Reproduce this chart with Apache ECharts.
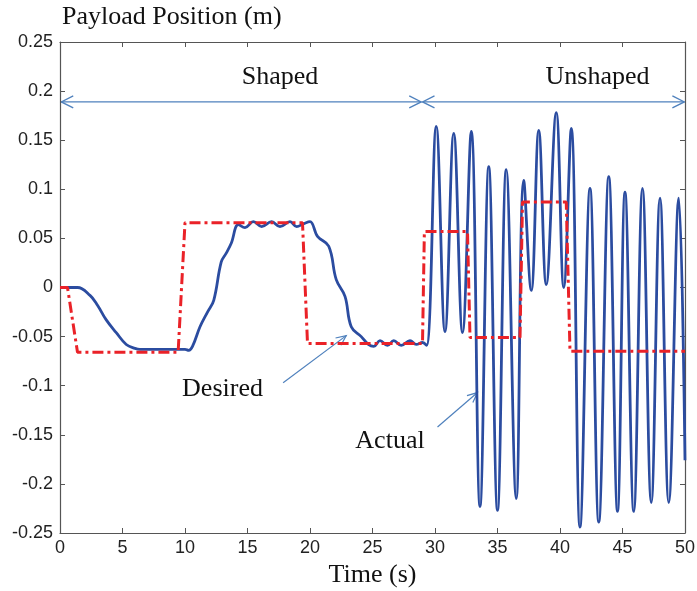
<!DOCTYPE html>
<html><head><meta charset="utf-8">
<script src="https://cdn.jsdelivr.net/npm/echarts@6/dist/echarts.min.js"></script>
<style>html,body{margin:0;padding:0;background:#fff}#c{width:697px;height:591px}</style>
</head><body><div id="c"></div>
<script>
// ---- data ----
const xTicks = [0,5,10,15,20,25,30,35,40,45,50];
const yTicks = [-0.25,-0.2,-0.15,-0.1,-0.05,0,0.05,0.1,0.15,0.2,0.25];

const desiredTime = [0,0.6,1.4,9.45,10.0,19.4,19.8,29.0,29.15,32.6,32.8,36.8,37.0,40.5,40.8,50];
const desiredPos  = [0,0,-0.066,-0.066,0.066,0.066,-0.057,-0.057,0.057,0.057,-0.051,-0.051,0.087,0.087,-0.065,-0.065];

const actualTime = [0,1.4,2.4,3.0,3.7,4.5,5.3,6.0,6.4,10.0,10.3,10.6,11.2,11.8,12.3,12.9,13.3,13.7,14.27,14.8,15.47,16.13,16.93,17.6,18.4,18.93,19.5,20.0,20.6,21.5,22.1,22.8,23.3,24.1,24.67,25.1,25.6,26.2,26.7,27.3,28.0,28.5,29.0,29.33,
  30.1,30.8,31.5,32.2,32.9,33.6,34.3,35.0,35.7,36.5,37.1,37.7,38.3,38.9,39.7,40.3,40.9,41.6,42.4,43.1,43.9,44.6,45.2,45.9,46.6,47.3,48.0,48.7,49.5,50.0];
const actualPos  = [0,0,-0.008,-0.018,-0.033,-0.046,-0.058,-0.062,-0.063,-0.063,-0.064,-0.060,-0.040,-0.025,-0.013,0.026,0.035,0.045,0.064,0.061,0.067,0.062,0.067,0.062,0.067,0.062,0.065,0.067,0.052,0.042,0.008,-0.009,-0.040,-0.050,-0.058,-0.060,-0.054,-0.059,-0.054,-0.059,-0.054,-0.058,-0.056,-0.059,
  0.164,-0.045,0.157,-0.046,0.159,-0.223,0.123,-0.227,0.120,-0.215,0.109,-0.003,0.160,0.003,0.178,0.0,0.162,-0.244,0.101,-0.239,0.113,-0.228,0.097,-0.228,0.101,-0.219,0.091,-0.219,0.091,-0.176];

// annotation anchors (data coordinates)
const shapedSpan = [0.1, 28.9, 0.189];
const unshapedSpan = [29.0, 49.95, 0.189];

const desired = desiredTime.map((t,i)=>[t,desiredPos[i]]);
const actual = actualTime.map((t,i)=>[t,actualPos[i]]);

const chart = echarts.init(document.getElementById('c'));
const axisColor = '#555';
const tickLab = {fontFamily:'Liberation Sans, Arial', fontSize:18, color:'#222'};
const baseX = {type:'value',min:0,max:50,interval:5,axisLine:{show:true,onZero:false,lineStyle:{color:axisColor,width:1.2}},
  axisTick:{show:true,inside:true,length:5,lineStyle:{color:axisColor}},splitLine:{show:false}};
const baseY = {type:'value',min:-0.25,max:0.25,interval:0.05,axisLine:{show:true,onZero:false,lineStyle:{color:axisColor,width:1.2}},
  axisTick:{show:true,inside:true,length:5,lineStyle:{color:axisColor}},splitLine:{show:false}};

chart.setOption({
  animation:false,
  backgroundColor:'#fff',
  grid:{left:60,right:12,top:42,bottom:58,containLabel:false,outerBoundsMode:'none'},
  xAxis:[
    Object.assign({},baseX,{position:'bottom',axisLabel:Object.assign({margin:6,formatter:v=>String(v)},tickLab),
      name:'Time (s)',nameLocation:'middle',nameGap:29,nameTextStyle:{fontFamily:'Liberation Serif, Times New Roman',fontSize:26,color:'#111'}}),
    Object.assign({},baseX,{position:'top',axisLabel:{show:false}})
  ],
  yAxis:[
    Object.assign({},baseY,{position:'left',axisLabel:Object.assign({margin:7,formatter:v=>{const r=Math.round(v*100)/100;return String(r);}},tickLab)}),
    Object.assign({},baseY,{position:'right',axisLabel:{show:false}})
  ],
  series:[
    {type:'line',data:actual,showSymbol:false,smooth:0.4,lineStyle:{color:'#2b4ca0',width:2.8,join:'round'},z:2},
    {type:'line',data:desired,showSymbol:false,lineStyle:{color:'#ea2228',width:3,type:[11,4,3,4]},z:3}
  ]
});

function P(t,y){return chart.convertToPixel({gridIndex:0},[t,y]);}
function arrowHead(tip, from, len, half){
  const dx=tip[0]-from[0], dy=tip[1]-from[1], L=Math.hypot(dx,dy), ux=dx/L, uy=dy/L;
  const bx=tip[0]-ux*len, by=tip[1]-uy*len;
  return [[bx-uy*half,by+ux*half],tip,[bx+uy*half,by-ux*half]];
}
const ac='#4f81bd';
const g=[];
function dblArrow(span){
  const a=P(span[0],span[2]), b=P(span[1],span[2]);
  g.push({type:'polyline',shape:{points:[a,b]},style:{stroke:ac,lineWidth:1.3,fill:null}});
  g.push({type:'polyline',shape:{points:arrowHead(a,b,12,6)},style:{stroke:ac,lineWidth:1.3,fill:null}});
  g.push({type:'polyline',shape:{points:arrowHead(b,a,12,6)},style:{stroke:ac,lineWidth:1.3,fill:null}});
}
dblArrow(shapedSpan); dblArrow(unshapedSpan);
function arrow(f,t){
  const a=P(f[0],f[1]), b=P(t[0],t[1]);
  g.push({type:'polyline',shape:{points:[a,b]},style:{stroke:ac,lineWidth:1.2,fill:null}});
  g.push({type:'polyline',shape:{points:arrowHead(b,a,10,4.5)},style:{stroke:ac,lineWidth:1.2,fill:null}});
}
arrow([17.85,-0.097],[22.9,-0.049]);
arrow([30.2,-0.142],[33.4,-0.107]);
const serif='Liberation Serif, Times New Roman';
function txt(s,t,y,size){const p=P(t,y);g.push({type:'text',x:p[0],y:p[1],style:{text:s,font:size+'px '+serif,fill:'#111',align:'center',verticalAlign:'middle'}});}
txt('Shaped',17.6,0.214,26);
txt('Unshaped',43.0,0.214,26);
txt('Desired',13.0,-0.104,26);
txt('Actual',26.4,-0.156,26);
g.push({type:'text',left:62,top:4,style:{text:'Payload Position (m)',font:'26px '+serif,fill:'#111'}});
chart.setOption({graphic:g});
</script>
</body></html>
